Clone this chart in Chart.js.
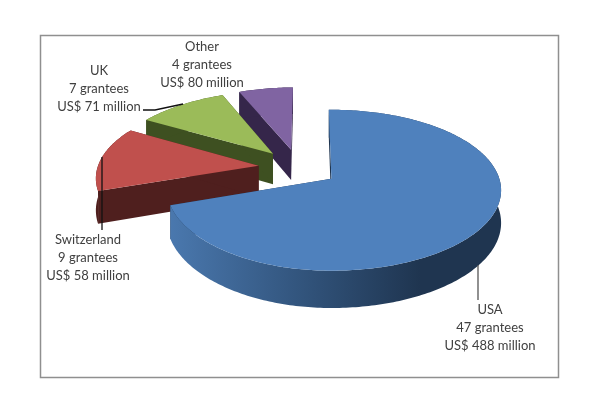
<!DOCTYPE html>
<html><head><meta charset="utf-8">
<script src="https://cdn.jsdelivr.net/npm/chart.js@4"></script>
<style>html,body{margin:0;padding:0;background:#fff}canvas{display:block}</style>
</head><body><canvas id="c" width="600" height="415"></canvas>
<script>
const categories=["USA","Switzerland","UK","Other"];
const sliceValues=[489,95,71,43];
const grantees=["47 grantees","9 grantees","7 grantees","4 grantees"];
const amounts=["US$ 488 million","US$ 58 million","US$ 71 million","US$ 80 million"];
const topColors=["#4f81bd","#c0504d","#9bbb59","#8064a2"];
const wallColors=["#1f3550","#4f1f1e","#3e5021","#35264a"];
const labelCenters=[[490,310],[88,240],[99,71],[202,47]];
const leaders=[
 {c:"#555555",p:[[478,265],[478,300]]},
 {c:"#111111",p:[[102,157],[102,230]]},
 {c:"#111111",p:[[143,110],[155,110],[183,104]]}
];
const explode=0.25,CX=331,CY=179,RX=168,RY=78.9,DEPTH=32,PERSP=7,OX=-0.202,OY=-0.147,WARP=5;
function proj(u,v,z){
 const s=1/(1-v/PERSP);
 const w=u<0?-u*Math.max(0,v+0.85)*WARP:0;
 return [CX+RX*u*s+w,CY+RY*v*s+DEPTH*z*s];
}
function poly(ctx,pts,fill){ctx.beginPath();pts.forEach((p,i)=>i?ctx.lineTo(p[0],p[1]):ctx.moveTo(p[0],p[1]));ctx.closePath();ctx.fillStyle=fill;ctx.fill();}
const pie3d={id:'pie3d',
 beforeDatasetDraw(chart,args){
  const ctx=chart.ctx,arcs=chart.getDatasetMeta(args.index).data;
  ctx.save();
  [3,2,1,0].forEach(i=>{
   const el=arcs[i],a0=el.startAngle,a1=el.endAngle,mid=(a0+a1)/2;
   const ox=OX+explode*Math.cos(mid),oy=OY+explode*Math.sin(mid);
   const rim=[];const n=Math.max(8,Math.round((a1-a0)*60));
   for(let k=0;k<=n;k++){const a=a0+(a1-a0)*k/n;rim.push([ox+Math.cos(a),oy+Math.sin(a)]);}
   const apex=[ox,oy];
   const top=p=>proj(p[0],p[1],0),bot=p=>proj(p[0],p[1],1);
   poly(ctx,[top(apex),top(rim[0]),bot(rim[0]),bot(apex)],wallColors[i]);
   poly(ctx,[top(apex),top(rim[n]),bot(rim[n]),bot(apex)],wallColors[i]);
   let wall=wallColors[i];
   if(i===0){wall=ctx.createLinearGradient(170,0,420,0);wall.addColorStop(0,"#4a78ae");wall.addColorStop(0.5,"#33567f");wall.addColorStop(1,"#1f3550");}
   poly(ctx,rim.map(top).concat(rim.slice().reverse().map(bot)),wall);
   poly(ctx,[top(apex)].concat(rim.map(top)),topColors[i]);
  });
  ctx.restore();
  return false;
 },
 afterDraw(chart){
  const ctx=chart.ctx;ctx.save();
  ctx.strokeStyle="#8f8f8f";ctx.lineWidth=1.5;ctx.strokeRect(40.5,35.5,518,342);
  leaders.forEach(l=>{ctx.beginPath();l.p.forEach((p,i)=>i?ctx.lineTo(p[0],p[1]):ctx.moveTo(p[0],p[1]));ctx.strokeStyle=l.c;ctx.lineWidth=1.3;ctx.stroke();});
  ctx.fillStyle="#404040";ctx.font="13px Lato";ctx.textAlign="center";ctx.textBaseline="middle";
  categories.forEach((c,i)=>{const [x,y]=labelCenters[i];ctx.fillText(c,x,y);ctx.fillText(grantees[i],x,y+18);ctx.fillText(amounts[i],x,y+36);});
  ctx.restore();
 }
};
new Chart(document.getElementById('c'),{
 type:'pie',
 data:{labels:categories,datasets:[{data:sliceValues,backgroundColor:topColors,borderWidth:0}]},
 options:{responsive:false,animation:false,rotation:-1,plugins:{legend:{display:false},tooltip:{enabled:false}}},
 plugins:[pie3d]
});
</script></body></html>
